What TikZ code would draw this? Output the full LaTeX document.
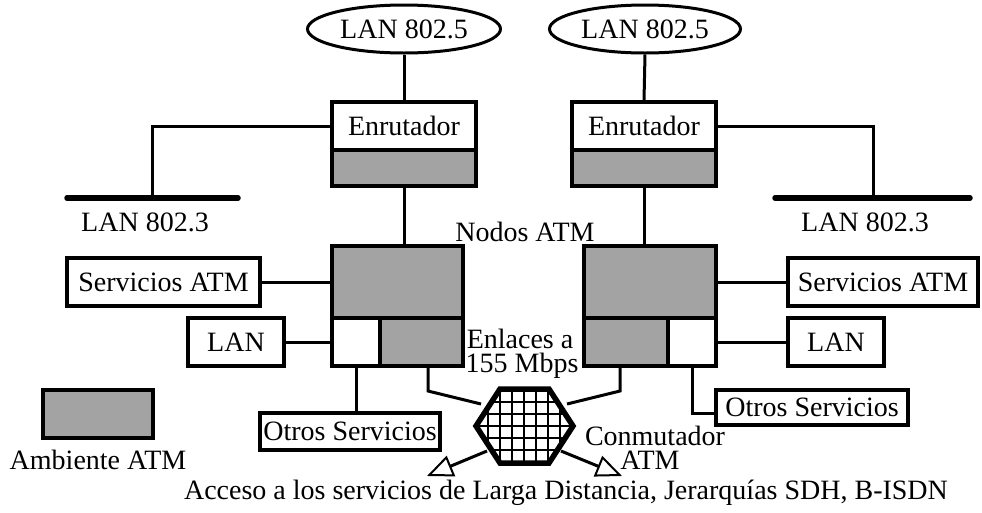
\documentclass[tikz,border=0pt]{standalone}
\usepackage{fontspec}
\setmainfont{Liberation Serif}
\usetikzlibrary{arrows.meta,shapes.geometric}
\begin{document}
\begin{tikzpicture}[x=1pt,y=-1pt,
  every node/.style={font=\fontsize{28}{24}\selectfont},
  box/.style={draw,line width=3.2pt,inner sep=0pt,minimum width=#1,anchor=center},
  wbox/.style={box=#1,fill=white,minimum height=48pt},
  gbox/.style={box=#1,fill=black!36},
  lanell/.style={draw,ellipse,line width=3pt,inner sep=0pt},
  conn/.style={line width=3pt},
  busline/.style={line width=5.5pt,line cap=round},
  openarrow/.style={line width=3pt,-{Triangle[open,fill=white,length=26pt,width=22pt,line width=2pt]}},
  label/.style={inner sep=0pt,align=center}
]
\useasboundingbox (0,0) rectangle (982,512);

% LAN 802.5 ellipses
\node[lanell,minimum width=193pt,minimum height=48pt] (e1) at (404,29) {LAN 802.5};
\node[lanell,minimum width=191pt,minimum height=48pt] (e2) at (645,29) {LAN 802.5};

% routers
\node[wbox=144pt] (r1) at (404,126) {Enrutador};
\node[gbox=144pt,minimum height=36pt] (r1g) at (404,168) {};
\node[wbox=144pt] (r2) at (644,126) {Enrutador};
\node[gbox=144pt,minimum height=36pt] (r2g) at (644,168) {};

% LAN 802.3 buses
\coordinate (b1a) at (67,198);
\coordinate (b1b) at (238,198);
\coordinate (b1) at (152,198);
\coordinate (b2a) at (775,198);
\coordinate (b2b) at (970,198);
\coordinate (b2) at (873,198);
\draw[busline] (b1a) -- (b1b);
\draw[busline] (b2a) -- (b2b);
\node[label] (l1) at (145,222) {LAN 802.3};
\node[label] (l2) at (865,222) {LAN 802.3};

% ATM nodes
\node[gbox=131pt,minimum height=72pt] (n1) at (397.5,282) {};
\node[wbox=48pt] (n1w) at (356,342) {};
\node[gbox=83pt,minimum height=48pt] (n1g) at (421.5,342) {};
\node[gbox=132pt,minimum height=72pt] (n2) at (650,282) {};
\node[gbox=84pt,minimum height=48pt] (n2g) at (626,342) {};
\node[wbox=48pt] (n2w) at (692,342) {};
\node[label] (nodos) at (525,232) {Nodos ATM};

% side boxes
\node[wbox=193pt] (sa1) at (163.5,282) {Servicios ATM};
\node[wbox=96pt] (lan1) at (236,342) {LAN};
\node[box=180pt,fill=white,minimum height=37pt] (o1) at (350,431.5) {Otros Servicios};
\node[wbox=190pt] (sa2) at (883,282) {Servicios ATM};
\node[wbox=96pt] (lan2) at (836,342) {LAN};
\node[box=192pt,fill=white,minimum height=35pt] (o2) at (812,407.5) {Otros Servicios};

% legend
\node[gbox=110pt,minimum height=48pt] (amb) at (98,414) {};
\node[label] (ambt) at (98,460) {Ambiente ATM};

% connectors
\draw[conn] (e1.south) -- (r1.north);
\draw[conn] (e2.south) -- (r2.north);
\draw[conn] (r1.west) -| (b1);
\draw[conn] (r2.east) -| (b2);
\draw[conn] (r1g.south) -- (r1g.south |- n1.north);
\draw[conn] (r2g.south) -- (r2g.south |- n2.north);
\draw[conn] (sa1.east) -- (sa1.east -| n1.west);
\draw[conn] (lan1.east) -- (n1w.west);
\draw[conn] (n1w.south) -- (n1w.south |- o1.north);
\draw[conn] (sa2.west) -- (sa2.west -| n2.east);
\draw[conn] (lan2.west) -- (n2w.east);
\coordinate (o2in) at (716,413);
\draw[conn] (n2w.south) |- (o2in);

% hexagon switch
\coordinate (h1) at (500,389);
\coordinate (h2) at (549,389);
\coordinate (h3) at (573,426);
\coordinate (h4) at (549,463);
\coordinate (h5) at (500,463);
\coordinate (h6) at (476,426);
\begin{scope}
  \clip (h1) -- (h2) -- (h3) -- (h4) -- (h5) -- (h6) -- cycle;
  \fill[white] (470,380) rectangle (580,470);
  \foreach \i in {-5,...,5} {
    \draw[line width=1.2pt] (524+12*\i,380) -- (524+12*\i,470);
    \draw[line width=1.2pt] (470,426+12*\i) -- (580,426+12*\i);
  }
\end{scope}
\draw[line width=5.5pt,line join=miter] (h1) -- (h2) -- (h3) -- (h4) -- (h5) -- (h6) -- cycle;

\coordinate (hl) at (481,404);
\coordinate (hr) at (567,404);
\coordinate (hll) at (487,451);
\coordinate (hlr) at (561,451);
\coordinate (k1) at (428,391);
\coordinate (k2) at (620,391);
\coordinate (a1) at (427,476);
\coordinate (a2) at (622,476);
\draw[conn] (n1g.south -| k1) -- (k1) -- (hl);
\draw[conn] (n2g.south -| k2) -- (k2) -- (hr);
\draw[openarrow] (hll) -- (a1);
\draw[openarrow] (hlr) -- (a2);

\node[label,anchor=base] (enl1) at (520,348) {Enlaces a};
\node[label,anchor=base] (enl2) at (522,372) {155 Mbps};
\node[label,anchor=base] (conm1) at (655,445) {Conmutador};
\node[label,anchor=base] (conm2) at (650,469) {ATM};
\node[label] (acc) at (566,493) {Acceso a los servicios de Larga Distancia, Jerarquías SDH, B-ISDN};
\end{tikzpicture}
\end{document}
